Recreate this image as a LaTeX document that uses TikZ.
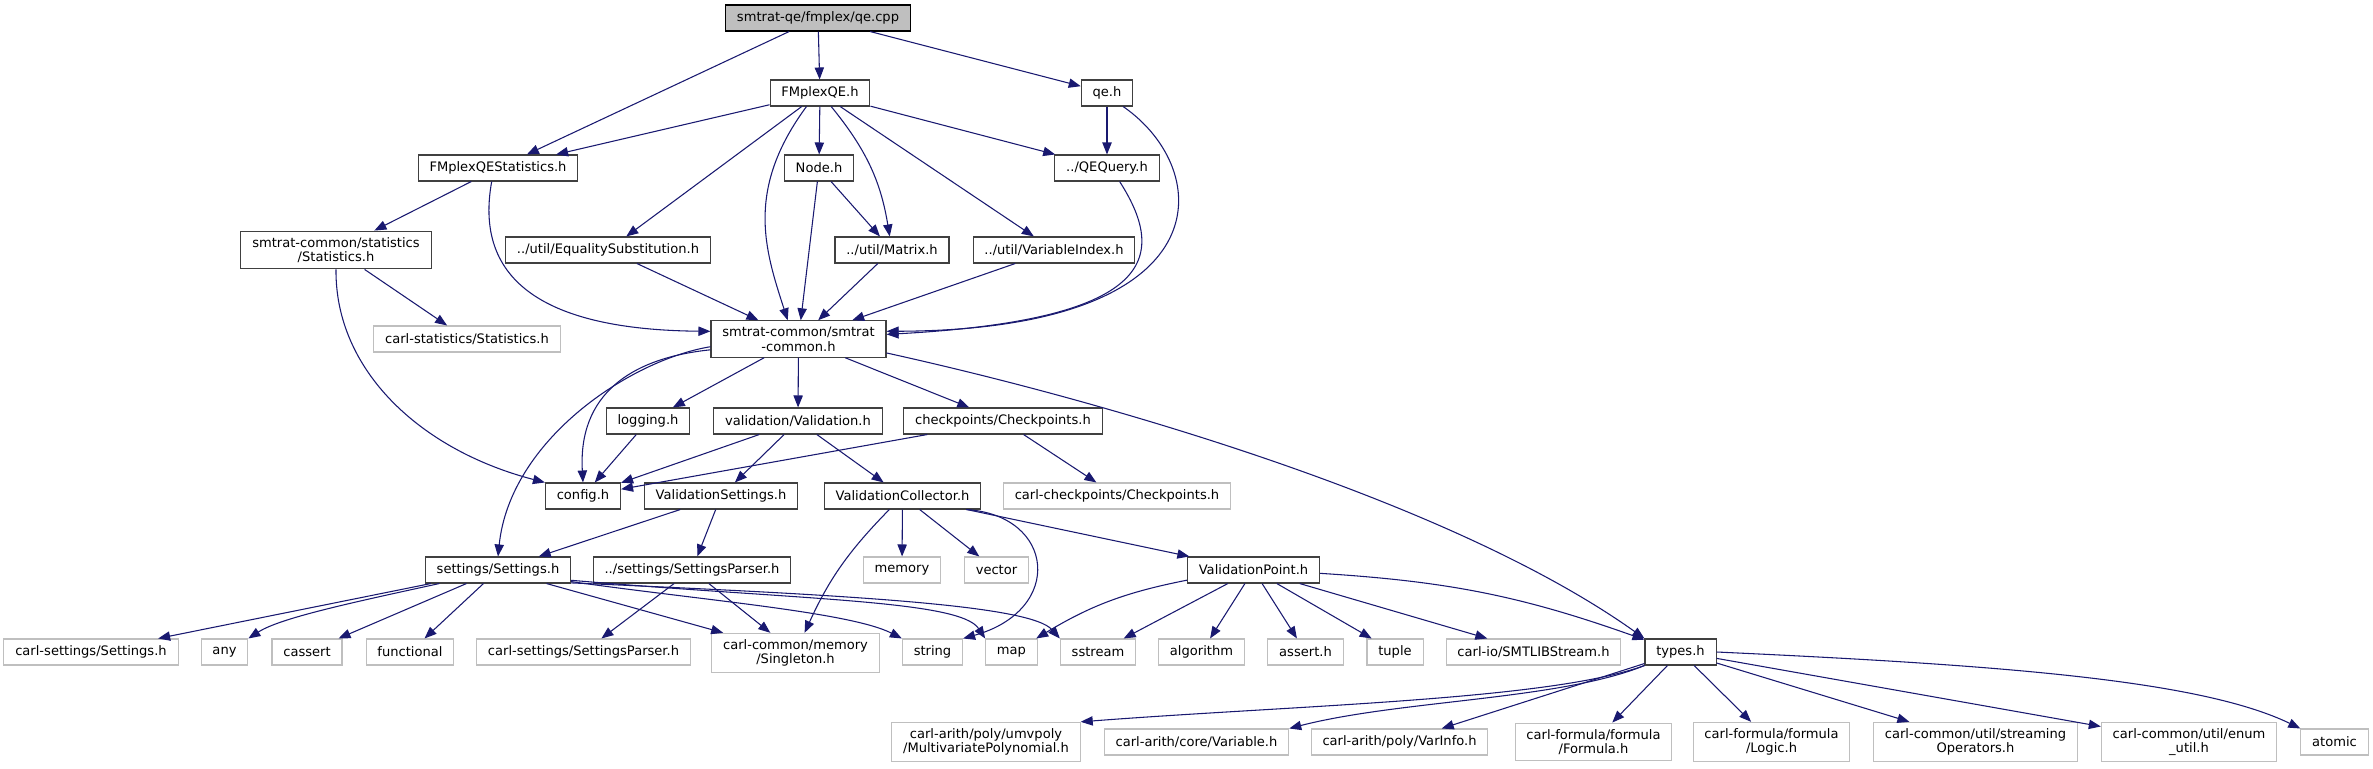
\documentclass[tikz,border=0pt]{standalone}
\usepackage{fontspec}
\setmainfont{DejaVu Sans}
\usetikzlibrary{arrows.meta,calc}
\definecolor{edgeblue}{RGB}{25,25,112}
\definecolor{docgrey}{RGB}{64,64,64}
\definecolor{extgrey}{RGB}{191,191,191}
\definecolor{rootgrey}{RGB}{191,191,191}
\tikzset{
  docfile/.style = {draw=docgrey, fill=white, line width=0.8pt, text=black,
                    align=center, inner xsep=8.5pt, inner ysep=4.5pt,
                    minimum height=19.5pt, font=\fontsize{9.8}{11}\selectfont},
  extfile/.style = {docfile, draw=extgrey},
  srcfile/.style = {docfile, draw=black, fill=rootgrey},
  incl/.style    = {-{Triangle[length=9pt,width=7pt]}, draw=edgeblue, line width=0.8pt},
}

\begin{document}
\begin{tikzpicture}[x=0.75pt,y=0.75pt]
\useasboundingbox (0,0) rectangle (2373,-768);

\node[srcfile] (qecpp) at (818,-18) {smtrat-qe/fmplex/qe.cpp};
\node[docfile] (fmqe) at (820,-93) {FMplexQE.h};
\node[docfile] (qeh) at (1107,-93) {qe.h};
\node[docfile] (fmstats) at (498,-168) {FMplexQEStatistics.h};
\node[docfile] (nodeh) at (819,-168) {Node.h};
\node[docfile] (qequery) at (1107,-168) {../QEQuery.h};
\node[docfile] (stats) at (336,-250) {smtrat-common/statistics\\/Statistics.h};
\node[docfile] (eqsub) at (608,-250) {../util/EqualitySubstitution.h};
\node[docfile] (matrix) at (892,-250) {../util/Matrix.h};
\node[docfile] (varidx) at (1054,-250) {../util/VariableIndex.h};
\node[docfile] (smtcommon) at (798.5,-339) {smtrat-common/smtrat\\-common.h};
\node[extfile] (carlstats) at (467,-339) {carl-statistics/Statistics.h};
\node[docfile] (logging) at (648,-421) {logging.h};
\node[docfile] (validation) at (798,-421) {validation/Validation.h};
\node[docfile] (checkpoints) at (1003,-421) {checkpoints/Checkpoints.h};
\node[docfile] (config) at (583,-496) {config.h};
\node[docfile] (valsettings) at (721,-496) {ValidationSettings.h};
\node[docfile] (valcollector) at (902.5,-496) {ValidationCollector.h};
\node[extfile] (carlcheck) at (1117,-496) {carl-checkpoints/Checkpoints.h};
\node[docfile] (settings) at (498,-570) {settings/Settings.h};
\node[docfile] (setparser) at (692,-570) {../settings/SettingsParser.h};
\node[extfile] (memory) at (902,-570) {memory};
\node[extfile] (vector) at (996.5,-570) {vector};
\node[docfile] (valpoint) at (1253.5,-570) {ValidationPoint.h};
\node[extfile] (carlsettings) at (91,-652) {carl-settings/Settings.h};
\node[extfile] (any) at (224.5,-652) {any};
\node[extfile] (cassert) at (307,-652) {cassert};
\node[extfile] (functional) at (410,-652) {functional};
\node[extfile] (carlsetparser) at (583.5,-652) {carl-settings/SettingsParser.h};
\node[extfile] (singleton) at (795.5,-653) {carl-common/memory\\/Singleton.h};
\node[extfile] (string) at (932.5,-652) {string};
\node[extfile] (map) at (1011.5,-652) {map};
\node[extfile] (sstream) at (1098,-652) {sstream};
\node[extfile] (algorithm) at (1201.5,-652) {algorithm};
\node[extfile] (asserth) at (1305.5,-652) {assert.h};
\node[extfile] (tuple) at (1395,-652) {tuple};
\node[extfile] (smtlib) at (1533.5,-652) {carl-io/SMTLIBStream.h};
\node[docfile] (types) at (1680.5,-652) {types.h};
\node[extfile] (mvpoly) at (986,-742) {carl-arith/poly/umvpoly\\/MultivariatePolynomial.h};
\node[extfile] (variable) at (1196.5,-742) {carl-arith/core/Variable.h};
\node[extfile] (varinfo) at (1399.5,-742) {carl-arith/poly/VarInfo.h};
\node[extfile] (formula) at (1593.5,-742) {carl-formula/formula\\/Formula.h};
\node[extfile] (logic) at (1771.5,-742) {carl-formula/formula\\/Logic.h};
\node[extfile] (streamops) at (1975.5,-742) {carl-common/util/streaming\\Operators.h};
\node[extfile] (enumutil) at (2189,-742) {carl-common/util/enum\\\_util.h};
\node[extfile] (atomic) at (2334.5,-742) {atomic};

\draw[incl] (qecpp) -- (fmstats);
\draw[incl] (qecpp) -- (fmqe);
\draw[incl] (qecpp) -- (qeh);
\draw[incl] (fmqe) -- (fmstats);
\draw[incl] (fmqe) -- (eqsub);
\draw[incl] (fmqe.-135) .. controls (745,-190) and (765,-250) .. (smtcommon.120);
\draw[incl] (fmqe) -- (nodeh);
\draw[incl] (fmqe) to[bend left=15] (matrix);
\draw[incl] (fmqe) -- (varidx);
\draw[incl] (fmqe) -- (qequery);
\draw[incl] (qeh) -- (qequery);
\draw[incl] (qeh.-40) .. controls (1215,-170) and (1225,-330) .. (smtcommon.5);
\draw[incl] (fmstats) -- (stats);
\draw[incl] (fmstats.-115) .. controls (472,-290) and (560,-330) .. (smtcommon.175);
\draw[incl] (nodeh) -- (smtcommon);
\draw[incl] (nodeh) -- (matrix);
\draw[incl] (qequery.-47) .. controls (1170,-260) and (1150,-320) .. (smtcommon.3);
\draw[incl] (eqsub) -- (smtcommon);
\draw[incl] (matrix) -- (smtcommon);
\draw[incl] (varidx) -- (smtcommon);
\draw[incl] (stats) -- (carlstats);
\draw[incl] (stats.south) .. controls (335,-370) and (420,-450) .. (config.north west);
\draw[incl] (smtcommon) -- (logging);
\draw[incl] (smtcommon) -- (validation);
\draw[incl] (smtcommon) -- (checkpoints);
\draw[incl] (smtcommon.-173) .. controls (630,-358) and (578,-395) .. (config.north);
\draw[incl] (smtcommon.185) .. controls (630,-360) and (510,-440) .. (settings.north);
\draw[incl] (smtcommon.-9) .. controls (1100,-400) and (1450,-500) .. (types.north west);
\draw[incl] (logging) -- (config);
\draw[incl] (validation) -- (config);
\draw[incl] (validation) -- (valsettings);
\draw[incl] (validation) -- (valcollector);
\draw[incl] (checkpoints) -- (config);
\draw[incl] (checkpoints) -- (carlcheck);
\draw[incl] (valsettings) -- (settings);
\draw[incl] (valsettings) -- (setparser);
\draw[incl] (valcollector) -- (memory);
\draw[incl] (valcollector) -- (vector);
\draw[incl] (valcollector) to[bend right=10] (singleton);
\draw[incl] (valcollector.-12) .. controls (1055,-515) and (1065,-610) .. (string.north east);
\draw[incl] (valcollector) -- (valpoint);
\draw[incl] (settings) -- (carlsettings);
\draw[incl] (settings.-167) .. controls (350,-603) and (280,-618) .. (any.north east);
\draw[incl] (settings) -- (cassert);
\draw[incl] (settings) -- (functional);
\draw[incl] (settings) -- (singleton);
\draw[incl] (settings.-9) .. controls (700,-600) and (850,-612) .. (string.north west);
\draw[incl] (settings.-8) .. controls (800,-600) and (960,-600) .. (map.north west);
\draw[incl] (settings.-10) .. controls (850,-595) and (1030,-605) .. (sstream.north west);
\draw[incl] (setparser) -- (carlsetparser);
\draw[incl] (setparser) -- (singleton);
\draw[incl] (valpoint) to[bend right=10] (map);
\draw[incl] (valpoint) -- (sstream);
\draw[incl] (valpoint) -- (algorithm);
\draw[incl] (valpoint) -- (asserth);
\draw[incl] (valpoint) -- (tuple);
\draw[incl] (valpoint) -- (smtlib);
\draw[incl] (valpoint) to[bend left=8] (types);
\draw[incl] (types.south west) .. controls (1550,-700) and (1300,-705) .. (mvpoly.north east);
\draw[incl] (types.south west) .. controls (1560,-700) and (1400,-700) .. (variable.north east);
\draw[incl] (types) -- (varinfo);
\draw[incl] (types) -- (formula);
\draw[incl] (types) -- (logic);
\draw[incl] (types) -- (streamops);
\draw[incl] (types) -- (enumutil);
\draw[incl] (types.east) .. controls (2000,-665) and (2200,-680) .. (atomic.north west);
\end{tikzpicture}
\end{document}
